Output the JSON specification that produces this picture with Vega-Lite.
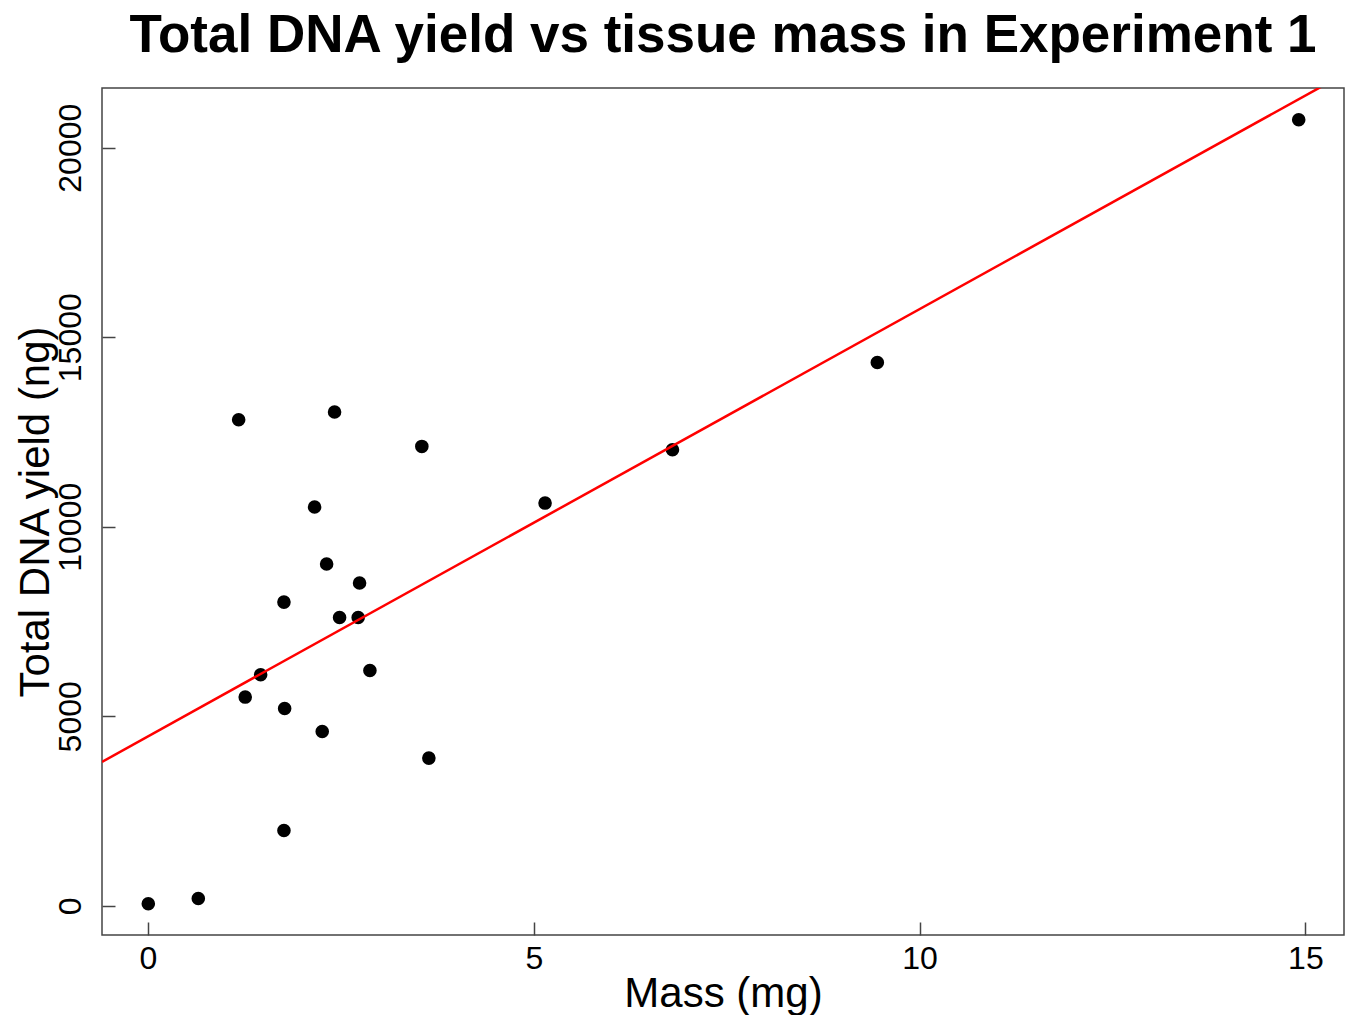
{
  "$schema": "https://vega.github.io/schema/vega-lite/v6.json",
  "autosize": {"type": "none"},
  "padding": {"left": 102, "top": 88, "right": 2, "bottom": 80},
  "width": 1242,
  "height": 847,
  "background": "white",
  "title": {
    "text": "Total DNA yield vs tissue mass in Experiment 1",
    "font": "Liberation Sans",
    "fontSize": 53,
    "fontWeight": "bold",
    "color": "black",
    "anchor": "middle",
    "frame": "group",
    "baseline": "alphabetic",
    "offset": 33,
    "dy": 50
  },
  "config": {
    "view": {"stroke": "#444", "strokeWidth": 1.5},
    "axis": {
      "domain": false,
      "grid": false,
      "tickColor": "#444",
      "tickWidth": 1.5,
      "tickSize": -13,
      "labelFont": "Liberation Sans",
      "labelFontSize": 32,
      "labelColor": "black",
      "titleFont": "Liberation Sans",
      "titleFontSize": 42,
      "titleFontWeight": "normal",
      "titleColor": "black"
    }
  },
  "datasets": {
    "points": [
      {"mass": 0.004, "dna": 53},
      {"mass": 0.652, "dna": 193},
      {"mass": 1.175, "dna": 12823},
      {"mass": 2.418, "dna": 13026},
      {"mass": 3.549, "dna": 12119},
      {"mass": 2.159, "dna": 10520},
      {"mass": 2.315, "dna": 9016},
      {"mass": 2.742, "dna": 8515},
      {"mass": 1.762, "dna": 8013},
      {"mass": 2.483, "dna": 7607},
      {"mass": 2.724, "dna": 7607},
      {"mass": 1.460, "dna": 6095},
      {"mass": 2.876, "dna": 6208},
      {"mass": 1.260, "dna": 5507},
      {"mass": 1.771, "dna": 5206},
      {"mass": 2.258, "dna": 4599},
      {"mass": 3.640, "dna": 3897},
      {"mass": 1.762, "dna": 1987},
      {"mass": 5.146, "dna": 10625},
      {"mass": 6.797, "dna": 12032},
      {"mass": 9.452, "dna": 14335},
      {"mass": 14.913, "dna": 20739}
    ],
    "fit": [
      {"mass": -0.596, "dna": 3799},
      {"mass": 15.5, "dna": 21940}
    ]
  },
  "layer": [
    {
      "data": {"name": "points"},
      "mark": {"type": "circle", "size": 185, "color": "black", "opacity": 1},
      "encoding": {
        "x": {
          "field": "mass", "type": "quantitative",
          "scale": {"domain": [-0.596, 15.5], "nice": false, "zero": false},
          "axis": {
            "values": [0, 5, 10, 15],
            "format": "d",
            "title": "Mass (mg)",
            "labelBaseline": "alphabetic",
            "labelPadding": 46,
            "labelFlush": false,
            "labelOverlap": false,
            "titleBaseline": "alphabetic",
            "titleAnchor": "middle",
            "titleX": 621,
            "titleY": 71
          }
        },
        "y": {
          "field": "dna", "type": "quantitative",
          "scale": {"domain": [-770, 21575], "nice": false, "zero": false},
          "axis": {
            "values": [0, 5000, 10000, 15000, 20000],
            "format": "d",
            "title": "Total DNA yield (ng)",
            "labelAngle": 270,
            "labelAlign": "center",
            "labelBaseline": "alphabetic",
            "labelPadding": 35,
            "labelFlush": false,
            "labelOverlap": false,
            "titleAngle": 270,
            "titleAlign": "center",
            "titleBaseline": "alphabetic",
            "titleX": -54,
            "titleY": 423.5
          }
        }
      }
    },
    {
      "data": {"name": "fit"},
      "mark": {"type": "line", "color": "#FF0000", "strokeWidth": 2.5, "clip": true},
      "encoding": {
        "x": {"field": "mass", "type": "quantitative"},
        "y": {"field": "dna", "type": "quantitative"}
      }
    }
  ]
}
